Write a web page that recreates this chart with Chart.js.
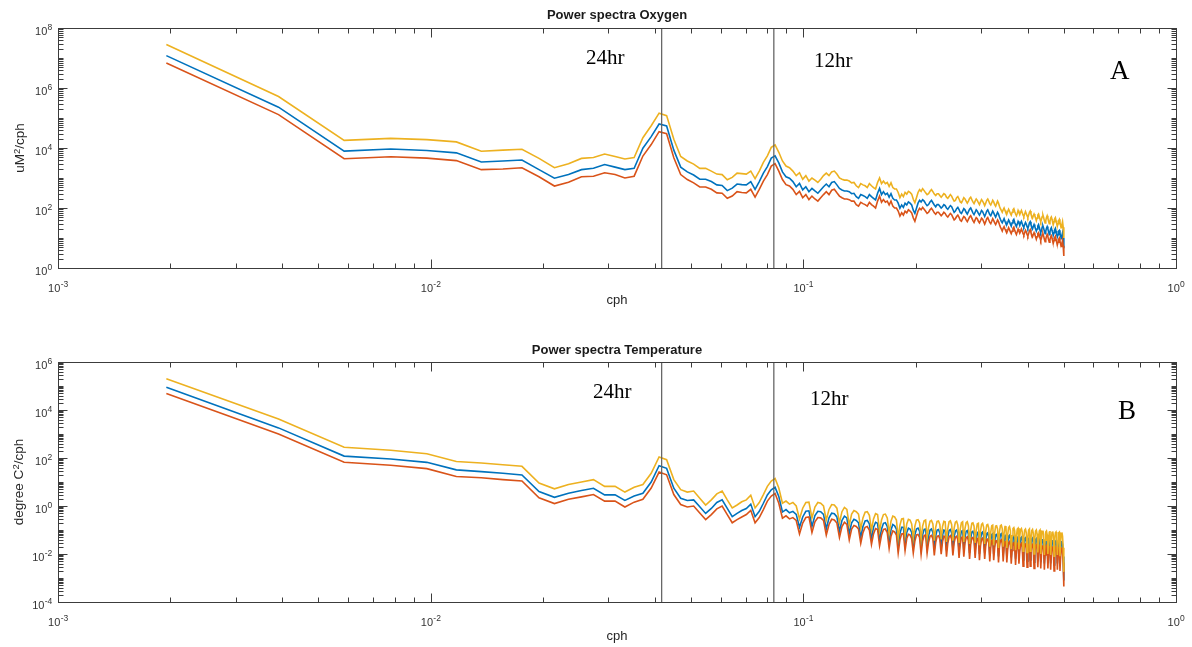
<!DOCTYPE html>
<html><head><meta charset="utf-8">
<script src="https://cdn.jsdelivr.net/npm/chart.js@4.4.1/dist/chart.umd.min.js"></script>
<style>
html,body{margin:0;padding:0;background:#fff;width:1192px;height:647px;overflow:hidden;}
#wrap{position:relative;width:1192px;height:647px;}
canvas{position:absolute;left:0;}
.t{position:absolute;white-space:nowrap;font-family:"Liberation Sans",Arial,sans-serif;color:#1a1a1a;line-height:1;}
.title{font-weight:bold;font-size:13px;transform:translate(-50%,-50%);}
.xl{font-size:13px;transform:translate(-50%,-50%);color:#262626;}
.yl{font-size:13.5px;transform:translate(-50%,-50%) rotate(-90deg);color:#262626;}
.ann{position:absolute;white-space:nowrap;font-family:"Liberation Serif","Times New Roman",serif;color:#000;line-height:1;}
sup{font-size:70%;vertical-align:0.45em;line-height:0;}
#err{position:absolute;left:300px;top:300px;color:red;font:14px sans-serif;}
</style></head>
<body><div id="wrap">
<canvas id="c1" width="1192" height="300" style="top:0px"></canvas>
<canvas id="c2" width="1192" height="300" style="top:334px"></canvas>
<div class="t title" style="left:617px;top:14px">Power spectra Oxygen</div>
<div class="t title" style="left:617px;top:349px">Power spectra Temperature</div>
<div class="t xl" style="left:617px;top:299px">cph</div>
<div class="t xl" style="left:617px;top:635px">cph</div>
<div class="t yl" style="left:20px;top:148px">uM<sup>2</sup>/cph</div>
<div class="t yl" style="left:19px;top:482px">degree C<sup>2</sup>/cph</div>
<div class="ann" style="left:586px;top:47px;font-size:21px">24hr</div>
<div class="ann" style="left:814px;top:50px;font-size:21px">12hr</div>
<div class="ann" style="left:1110px;top:57px;font-size:27px">A</div>
<div class="ann" style="left:593px;top:381px;font-size:21px">24hr</div>
<div class="ann" style="left:810px;top:388px;font-size:21px">12hr</div>
<div class="ann" style="left:1118px;top:397px;font-size:27px">B</div>
<div id="err"></div>
</div>
<script>
// ---- data (frequency bins are k/512 cph, k = 1..256) ----
const BIN_COUNT = 256;
const BIN_WIDTH = 1 / 512;
const PERIOD_MARKERS_HR = [24, 12];

const X_LABEL_TICKS = [1e-3, 1e-2, 1e-1, 1];
const OXY_Y_TICKS = [1, 1e2, 1e4, 1e6, 1e8];
const TEMP_Y_TICKS = [1e-4, 1e-2, 1, 1e2, 1e4, 1e6];

const OXY_MID = [
1.2e7,2.3e5,7.9e3,9.3e3,8.3e3,6.9e3,3.4e3,3.7e3,4.0e3,1.9e3,
9.8e2,1.3e3,1.9e3,2.1e3,2.8e3,2.3e3,1.9e3,2.1e3,9.8e3,2.4e4,
6.3e4,5.4e4,8.5e3,2.3e3,1.6e3,1.26e3,9.1e2,9.1e2,7.6e2,5.9e2,
5.6e2,3.8e2,4.6e2,6.3e2,6.0e2,5.9e2,7.6e2,4.2e2,7.6e2,1.45e3,
2.4e3,4.6e3,5.5e3,3.2e3,1.6e3,1.1e3,9.8e2,7.6e2,5.1e2,6.6e2,
4.0e2,5.1e2,3.5e2,4.5e2,3.7e2,3.1e2,4.0e2,5.1e2,6.3e2,5.1e2,
7.1e2,7.6e2,5.9e2,4.5e2,4.0e2,3.7e2,3.7e2,3.5e2,3.0e2,3.1e2,
2.4e2,2.1e2,2.8e2,2.6e2,2.4e2,2.1e2,2.8e2,2.4e2,2.1e2,1.85e2,
3.1e2,4.5e2,2.8e2,3.5e2,2.8e2,3.1e2,2.3e2,3.0e2,2.1e2,1.85e2,
1.85e2,1.45e2,9.8e1,1.26e2,1.05e2,1.45e2,1.26e2,1.6e2,1.45e2,1.26e2,
8.5e1,6.6e1,9.8e1,1.45e2,1.8e2,1.6e2,1.9e2,1.7e2,1.4e2,1.2e2,
1.3e2,1.6e2,1.8e2,1.5e2,1.26e2,1.1e2,1.3e2,1.3e2,1.15e2,1.0e2,
1.1e2,1.3e2,1.2e2,1.0e2,9.1e1,1.05e2,1.2e2,1.1e2,8.9e1,7.2e1,
7.9e1,9.5e1,1.05e2,8.9e1,7.1e1,6.6e1,7.9e1,9.5e1,8.7e1,7.2e1,
6.3e1,7.6e1,9.1e1,1.0e2,8.3e1,6.9e1,6.0e1,7.2e1,8.7e1,7.9e1,
6.6e1,5.8e1,6.9e1,8.3e1,7.6e1,6.3e1,5.2e1,6.3e1,7.9e1,8.7e1,
7.2e1,6.0e1,5.5e1,6.6e1,7.9e1,6.9e1,5.8e1,5.0e1,6.0e1,7.2e1,
6.3e1,5.0e1,4.2e1,3.6e1,3.2e1,3.8e1,4.4e1,3.6e1,3.0e1,2.8e1,
3.3e1,4.0e1,3.5e1,2.9e1,2.5e1,3.2e1,3.8e1,4.2e1,3.3e1,2.8e1,
2.4e1,2.9e1,3.6e1,3.2e1,2.6e1,3.2e1,3.6e1,3.0e1,2.5e1,2.3e1,
2.8e1,3.3e1,2.9e1,2.4e1,2.1e1,2.5e1,3.2e1,3.5e1,2.8e1,2.3e1,
2.0e1,2.4e1,2.8e1,2.4e1,2.0e1,1.7e1,2.0e1,2.5e1,2.8e1,2.3e1,
1.8e1,1.5e1,1.8e1,2.3e1,2.5e1,2.1e1,1.7e1,1.4e1,1.7e1,2.1e1,
2.4e1,2.0e1,1.6e1,1.3e1,1.6e1,2.0e1,2.2e1,1.8e1,1.45e1,1.26e1,
1.5e1,1.9e1,2.1e1,1.7e1,1.3e1,1.1e1,1.3e1,1.7e1,1.8e1,1.45e1,
1.15e1,9.5,1.2e1,1.5e1,1.0e1,4.5];

const OXY_HI = [
2.8e7,5.2e5,1.8e4,2.1e4,1.9e4,1.6e4,7.8e3,8.5e3,9.1e3,4.5e3,
2.2e3,3.0e3,4.5e3,4.8e3,6.3e3,5.2e3,4.3e3,4.8e3,2.2e4,5.5e4,
1.45e5,1.2e5,1.95e4,5.2e3,3.7e3,2.9e3,2.1e3,2.1e3,1.7e3,1.35e3,
1.3e3,8.7e2,1.05e3,1.45e3,1.4e3,1.35e3,1.7e3,9.5e2,1.7e3,3.3e3,
5.5e3,1.05e4,1.26e4,7.2e3,3.7e3,2.5e3,2.2e3,1.7e3,1.2e3,1.5e3,
9.1e2,1.2e3,7.9e2,1.0e3,8.5e2,7.1e2,9.1e2,1.2e3,1.45e3,1.2e3,
1.6e3,1.7e3,1.35e3,1.0e3,9.1e2,8.5e2,8.5e2,7.9e2,6.9e2,7.1e2,
5.5e2,4.8e2,6.5e2,5.9e2,5.5e2,4.8e2,6.5e2,5.5e2,4.8e2,4.3e2,
7.1e2,1.0e3,6.5e2,7.9e2,6.5e2,7.1e2,5.2e2,6.9e2,4.8e2,4.3e2,
4.3e2,3.3e2,2.2e2,2.9e2,2.4e2,3.3e2,2.9e2,3.6e2,3.3e2,2.9e2,
1.95e2,1.5e2,2.2e2,3.3e2,4.1e2,3.6e2,4.4e2,3.8e2,3.2e2,2.8e2,
3.0e2,3.6e2,4.1e2,3.5e2,2.9e2,2.6e2,3.0e2,3.0e2,2.6e2,2.3e2,
2.6e2,3.0e2,2.8e2,2.3e2,2.1e2,2.4e2,2.8e2,2.5e2,2.0e2,1.7e2,
1.8e2,2.2e2,2.4e2,2.0e2,1.6e2,1.5e2,1.8e2,2.2e2,2.0e2,1.7e2,
1.45e2,1.7e2,2.1e2,2.3e2,1.9e2,1.6e2,1.4e2,1.7e2,2.0e2,1.8e2,
1.5e2,1.3e2,1.6e2,1.9e2,1.7e2,1.45e2,1.2e2,1.45e2,1.8e2,2.0e2,
1.7e2,1.4e2,1.26e2,1.5e2,1.8e2,1.6e2,1.3e2,1.15e2,1.4e2,1.7e2,
1.45e2,1.15e2,9.5e1,8.3e1,7.2e1,8.7e1,1.0e2,8.3e1,6.9e1,6.3e1,
7.6e1,9.1e1,7.9e1,6.6e1,5.8e1,7.2e1,8.7e1,9.5e1,7.6e1,6.3e1,
5.5e1,6.6e1,8.3e1,7.2e1,6.0e1,7.2e1,8.3e1,6.9e1,5.8e1,5.2e1,
6.3e1,7.6e1,6.6e1,5.5e1,4.8e1,5.8e1,7.2e1,7.9e1,6.3e1,5.2e1,
4.6e1,5.5e1,6.3e1,5.5e1,4.6e1,3.8e1,4.6e1,5.8e1,6.3e1,5.2e1,
4.2e1,3.5e1,4.2e1,5.2e1,5.8e1,4.8e1,3.8e1,3.2e1,3.8e1,4.8e1,
5.5e1,4.6e1,3.6e1,3.0e1,3.6e1,4.6e1,5.0e1,4.2e1,3.3e1,2.9e1,
3.5e1,4.4e1,4.8e1,3.8e1,3.0e1,2.5e1,3.0e1,3.8e1,4.2e1,3.3e1,
2.6e1,2.2e1,2.8e1,3.5e1,2.3e1,1.0e1];

const OXY_LO = [
6.8e6,1.3e5,4.4e3,5.1e3,4.6e3,3.8e3,1.9e3,2.0e3,2.2e3,1.1e3,
5.4e2,7.2e2,1.1e3,1.15e3,1.5e3,1.3e3,1.0e3,1.15e3,5.4e3,1.3e4,
3.5e4,3.0e4,4.7e3,1.3e3,8.9e2,6.9e2,5.0e2,5.0e2,4.2e2,3.2e2,
3.1e2,2.1e2,2.5e2,3.5e2,3.3e2,3.2e2,4.2e2,2.3e2,4.2e2,7.9e2,
1.3e3,2.5e3,3.0e3,1.7e3,8.9e2,6.0e2,5.4e2,4.2e2,2.8e2,3.6e2,
2.2e2,2.8e2,1.9e2,2.5e2,2.0e2,1.7e2,2.2e2,2.8e2,3.5e2,2.8e2,
3.9e2,4.2e2,3.2e2,2.5e2,2.2e2,2.0e2,2.0e2,1.9e2,1.7e2,1.7e2,
1.3e2,1.15e2,1.55e2,1.4e2,1.3e2,1.15e2,1.55e2,1.3e2,1.15e2,1.0e2,
1.7e2,2.5e2,1.55e2,1.9e2,1.55e2,1.7e2,1.26e2,1.7e2,1.15e2,1.0e2,
1.0e2,7.9e1,5.4e1,6.9e1,5.8e1,7.9e1,6.9e1,8.7e1,7.9e1,6.9e1,
4.7e1,3.6e1,5.4e1,7.9e1,9.8e1,8.7e1,1.05e2,9.1e1,7.8e1,6.6e1,
7.2e1,8.7e1,9.8e1,8.3e1,6.9e1,6.2e1,7.2e1,7.2e1,6.3e1,5.5e1,
6.2e1,7.2e1,6.6e1,5.5e1,5.0e1,5.8e1,6.6e1,6.0e1,4.9e1,4.0e1,
4.4e1,5.2e1,5.8e1,4.9e1,3.9e1,3.6e1,4.4e1,5.2e1,4.8e1,4.0e1,
3.5e1,4.2e1,5.0e1,5.5e1,4.6e1,3.8e1,3.3e1,4.0e1,4.8e1,4.4e1,
3.6e1,3.2e1,3.8e1,4.6e1,4.2e1,3.5e1,2.9e1,3.5e1,4.4e1,4.8e1,
4.0e1,3.3e1,3.0e1,3.6e1,4.4e1,3.8e1,3.2e1,2.8e1,3.3e1,4.0e1,
3.5e1,2.8e1,2.3e1,2.0e1,1.7e1,2.1e1,2.4e1,2.0e1,1.7e1,1.5e1,
1.8e1,2.2e1,1.9e1,1.6e1,1.4e1,1.7e1,2.1e1,2.3e1,1.8e1,1.5e1,
1.3e1,1.6e1,2.0e1,1.7e1,1.45e1,1.7e1,2.0e1,1.7e1,1.4e1,1.26e1,
1.5e1,1.8e1,1.6e1,1.3e1,1.15e1,1.4e1,1.7e1,1.9e1,1.5e1,1.26e1,
1.1e1,1.3e1,1.5e1,1.3e1,1.1e1,9.1,1.1e1,1.4e1,1.5e1,1.26e1,
1.0e1,8.3,1.0e1,1.26e1,1.4e1,1.15e1,9.1,7.6,9.1,1.15e1,
1.3e1,1.1e1,8.7,7.2,8.7,1.1e1,1.2e1,1.0e1,7.9,6.9,
8.3,1.05e1,1.15e1,9.1,7.2,6.0,7.2,9.1,1.0e1,7.9,
6.3,5.2,6.6,8.3,5.5,2.5];

const TEMP_MID = [
8.9e4,1.8e3,1.2e2,9.1e1,6.6e1,3.2e1,2.7e1,2.3e1,1.95e1,4.0,
2.3,3.4,4.4,5.5,2.9,2.9,1.7,2.6,3.4,1.0e1,
4.8e1,3.7e1,5.5,2.1,1.7,1.8,0.93,0.49,0.79,1.4,
1.8,0.79,0.36,0.49,0.65,0.79,1.2,0.36,0.6,1.3,
2.9,4.7,6.0,2.5,0.56,0.71,0.52,0.6,0.45,0.13,
0.35,0.6,0.63,0.14,0.4,0.6,0.58,0.45,0.11,0.32,
0.5,0.48,0.35,0.089,0.25,0.38,0.32,0.071,0.2,0.28,
0.25,0.2,0.05,0.14,0.24,0.25,0.18,0.045,0.13,0.21,
0.19,0.04,0.11,0.19,0.2,0.14,0.032,0.1,0.17,0.15,
0.11,0.02,0.071,0.13,0.13,0.025,0.079,0.12,0.11,0.079,
0.02,0.063,0.11,0.12,0.089,0.018,0.063,0.105,0.11,0.02,
0.056,0.1,0.11,0.079,0.016,0.056,0.1,0.105,0.076,0.018,
0.06,0.1,0.095,0.014,0.05,0.095,0.105,0.076,0.016,0.052,
0.091,0.1,0.071,0.013,0.048,0.089,0.095,0.014,0.05,0.087,
0.095,0.066,0.011,0.045,0.083,0.089,0.063,0.013,0.045,0.079,
0.083,0.01,0.04,0.076,0.083,0.056,0.011,0.038,0.071,0.076,
0.052,0.0089,0.035,0.066,0.071,0.01,0.033,0.063,0.066,0.048,
0.0079,0.035,0.066,0.071,0.05,0.0089,0.032,0.06,0.063,0.0079,
0.028,0.055,0.06,0.042,0.0071,0.025,0.05,0.055,0.04,0.0063,
0.024,0.048,0.052,0.0071,0.024,0.046,0.05,0.035,0.0056,0.022,
0.045,0.048,0.033,0.005,0.021,0.044,0.048,0.0056,0.02,0.042,
0.046,0.032,0.0045,0.019,0.04,0.044,0.03,0.005,0.019,0.04,
0.044,0.0045,0.018,0.038,0.042,0.029,0.004,0.017,0.036,0.04,
0.028,0.0045,0.017,0.035,0.04,0.004,0.016,0.035,0.038,0.026,
0.0035,0.015,0.033,0.036,0.025,0.004,0.015,0.033,0.035,0.0035,
0.014,0.032,0.035,0.024,0.0079,0.00079];

const TEMP_HI = [
2.0e5,4.2e3,2.8e2,2.1e2,1.5e2,7.2e1,6.2e1,5.2e1,4.5e1,9.1,
5.2,7.8,1.0e1,1.26e1,6.6,6.6,3.8,6.0,7.8,2.3e1,
1.1e2,8.5e1,1.26e1,4.8,3.8,4.2,2.1,1.1,1.8,3.2,
4.2,1.8,0.83,1.1,1.5,1.8,2.8,0.83,1.4,3.0,
6.6,1.1e1,1.4e1,5.6,1.3,1.6,1.2,1.4,1.0,0.29,
0.81,1.4,1.45,0.32,0.91,1.4,1.3,1.0,0.26,0.72,
1.15,1.1,0.81,0.2,0.58,0.87,0.72,0.16,0.46,0.65,
0.58,0.46,0.115,0.32,0.55,0.58,0.41,0.1,0.29,0.48,
0.44,0.091,0.26,0.44,0.46,0.32,0.072,0.23,0.38,0.35,
0.26,0.046,0.16,0.29,0.3,0.058,0.18,0.28,0.26,0.18,
0.046,0.145,0.26,0.27,0.2,0.041,0.145,0.24,0.26,0.046,
0.13,0.23,0.25,0.18,0.036,0.13,0.23,0.24,0.17,0.041,
0.14,0.23,0.22,0.032,0.115,0.22,0.24,0.17,0.036,0.12,
0.21,0.23,0.16,0.029,0.11,0.2,0.22,0.032,0.115,0.2,
0.22,0.15,0.026,0.1,0.19,0.2,0.145,0.029,0.1,0.18,
0.19,0.023,0.091,0.17,0.19,0.13,0.026,0.087,0.16,0.17,
0.12,0.02,0.081,0.15,0.16,0.023,0.076,0.145,0.15,0.11,
0.018,0.081,0.15,0.16,0.115,0.02,0.072,0.14,0.145,0.018,
0.065,0.126,0.14,0.095,0.016,0.058,0.115,0.126,0.091,0.0145,
0.055,0.11,0.12,0.016,0.055,0.105,0.115,0.081,0.013,0.051,
0.1,0.11,0.076,0.0115,0.048,0.1,0.11,0.013,0.046,0.095,
0.105,0.072,0.01,0.044,0.091,0.1,0.069,0.0115,0.044,0.091,
0.1,0.01,0.041,0.087,0.095,0.066,0.0091,0.038,0.083,0.091,
0.063,0.01,0.038,0.081,0.091,0.0091,0.036,0.079,0.087,0.06,
0.0081,0.035,0.076,0.083,0.058,0.0091,0.035,0.076,0.081,0.0081,
0.032,0.072,0.079,0.055,0.018,0.0018];

const TEMP_LO = [
4.9e4,1.0e3,6.6e1,5.0e1,3.6e1,1.7e1,1.5e1,1.26e1,1.1e1,2.2,
1.26,1.9,2.4,3.0,1.6,1.6,0.91,1.45,1.9,5.6,
2.6e1,2.0e1,3.0,1.15,0.91,1.0,0.51,0.27,0.44,0.76,
1.0,0.44,0.2,0.27,0.35,0.44,0.66,0.2,0.33,0.71,
1.6,2.6,3.3,1.3,0.31,0.39,0.29,0.33,0.25,0.069,
0.195,0.33,0.35,0.078,0.22,0.33,0.32,0.25,0.062,0.17,
0.28,0.26,0.195,0.049,0.14,0.21,0.17,0.039,0.11,0.155,
0.14,0.11,0.028,0.078,0.13,0.14,0.098,0.025,0.069,0.115,
0.105,0.022,0.062,0.105,0.11,0.078,0.017,0.055,0.091,0.083,
0.062,0.011,0.039,0.069,0.072,0.014,0.044,0.066,0.062,0.044,
0.011,0.035,0.062,0.065,0.049,0.0098,0.035,0.058,0.062,0.011,
0.031,0.055,0.06,0.044,0.0087,0.031,0.055,0.058,0.042,0.0098,
0.033,0.055,0.052,0.0078,0.028,0.052,0.058,0.042,0.0087,0.029,
0.05,0.055,0.039,0.0069,0.026,0.049,0.052,0.0078,0.028,0.048,
0.052,0.036,0.0062,0.025,0.046,0.049,0.035,0.0069,0.025,0.044,
0.046,0.0055,0.022,0.042,0.046,0.031,0.0062,0.021,0.039,0.042,
0.029,0.0049,0.0195,0.036,0.039,0.0055,0.018,0.035,0.036,0.026,
0.0044,0.0195,0.036,0.039,0.028,0.0049,0.017,0.033,0.035,0.0044,
0.0155,0.03,0.033,0.023,0.0039,0.014,0.028,0.03,0.022,0.0035,
0.013,0.026,0.029,0.0039,0.013,0.025,0.028,0.0195,0.0031,0.012,
0.025,0.026,0.018,0.0028,0.0115,0.024,0.026,0.0031,0.011,0.023,
0.025,0.017,0.0025,0.0105,0.022,0.024,0.017,0.0028,0.0105,0.022,
0.024,0.0025,0.0098,0.021,0.023,0.016,0.0022,0.0091,0.02,0.022,
0.015,0.0025,0.0091,0.0195,0.022,0.0022,0.0087,0.019,0.021,0.0145,
0.00195,0.0083,0.018,0.02,0.014,0.0022,0.0083,0.018,0.0195,0.00195,
0.0078,0.017,0.019,0.013,0.0044,0.00044];

// ---- styling ----
const COL_BLUE = '#0072BD', COL_ORANGE = '#D95319', COL_YELLOW = '#EDB120';
const AXIS_COL = '#3c3c3c';
const LABEL_FAMILY = '"Liberation Sans", Arial, sans-serif';

const FREQ = Array.from({length: BIN_COUNT}, (_, i) => (i + 1) * BIN_WIDTH);

const errs = [];
[['OXY_MID',OXY_MID],['OXY_HI',OXY_HI],['OXY_LO',OXY_LO],['TEMP_MID',TEMP_MID],['TEMP_HI',TEMP_HI],['TEMP_LO',TEMP_LO]]
  .forEach(([n,a]) => { if (a.length !== BIN_COUNT) errs.push(n + ':' + a.length); });
if (errs.length) document.getElementById('err').textContent = 'LEN ' + errs.join(' ');

function decadeTicks(minExp, maxExp) {
  const minor = [], major = [];
  for (let d = minExp; d <= maxExp; d++) {
    major.push(Math.pow(10, d));
    if (d < maxExp) for (let m = 2; m <= 9; m++) minor.push(m * Math.pow(10, d));
  }
  return {minor, major};
}

// draws "10" with a raised exponent; anchor: 'right' (y axis) or 'center' (x axis)
function drawPow(ctx, v, ax, baseY, anchor) {
  const e = String(Math.round(Math.log10(v)));
  ctx.font = '11px ' + LABEL_FAMILY;
  const w1 = ctx.measureText('10').width;
  ctx.font = '8.5px ' + LABEL_FAMILY;
  const w2 = ctx.measureText(e).width;
  const x0 = anchor === 'right' ? ax - (w1 + w2) : ax - (w1 + w2) / 2;
  ctx.textAlign = 'left';
  ctx.textBaseline = 'alphabetic';
  ctx.font = '11px ' + LABEL_FAMILY;
  ctx.fillText('10', x0, baseY);
  ctx.font = '8.5px ' + LABEL_FAMILY;
  ctx.fillText(e, x0 + w1 + 0.3, baseY - 5);
}

const boxPlugin = {
  id: 'matlabBox',
  afterDraw(chart, args, opts) {
    const {ctx, chartArea: a, scales: {x, y}} = chart;
    ctx.save();
    ctx.strokeStyle = AXIS_COL;
    ctx.lineWidth = 1;
    const L = Math.round(a.left) + 0.5, R = Math.round(a.right) + 0.5;
    const T = Math.round(a.top) + 0.5, B = Math.round(a.bottom) + 0.5;
    ctx.beginPath();
    const xt = decadeTicks(-3, 0);
    const drawX = (v, len) => {
      const p = Math.round(x.getPixelForValue(v)) + 0.5;
      ctx.moveTo(p, B); ctx.lineTo(p, B - len);
      ctx.moveTo(p, T); ctx.lineTo(p, T + len);
    };
    xt.minor.forEach(v => drawX(v, 5));
    xt.major.forEach(v => drawX(v, 9));
    const yt = decadeTicks(opts.yMinExp, opts.yMaxExp);
    const drawY = (v, len) => {
      const p = Math.round(y.getPixelForValue(v)) + 0.5;
      ctx.moveTo(L, p); ctx.lineTo(L + len, p);
      ctx.moveTo(R, p); ctx.lineTo(R - len, p);
    };
    yt.minor.forEach(v => drawY(v, 5));
    yt.major.forEach(v => drawY(v, opts.yLabels.includes(v) ? 9 : 5));
    ctx.stroke();
    ctx.strokeRect(L, T, R - L, B - T);
    // tick labels, positioned through the chart scales
    ctx.fillStyle = '#333';
    X_LABEL_TICKS.forEach(v => drawPow(ctx, v, x.getPixelForValue(v), a.bottom + 24, 'center'));
    opts.yLabels.forEach(v => drawPow(ctx, v, a.left - 6, y.getPixelForValue(v) + 7, 'right'));
    ctx.restore();
  }
};

function makeChart(id, mid, hi, lo, yMin, yMax, yLabels, yMinExp, yMaxExp) {
  const series = (arr) => FREQ.map((f, i) => ({x: f, y: arr[i]}));
  const vlines = PERIOD_MARKERS_HR.map(h => ({
    data: [{x: 1 / h, y: yMin}, {x: 1 / h, y: yMax}],
    borderColor: 'rgba(95,95,95,0.95)', borderWidth: 1.3
  }));
  return new Chart(document.getElementById(id), {
    type: 'line',
    data: {
      datasets: [
        ...vlines,
        {data: series(hi), borderColor: COL_YELLOW, borderWidth: 1.6},
        {data: series(lo), borderColor: COL_ORANGE, borderWidth: 1.6},
        {data: series(mid), borderColor: COL_BLUE, borderWidth: 1.6}
      ]
    },
    options: {
      responsive: false, animation: false, events: [],
      layout: {padding: {left: 0, right: 16, top: 28, bottom: 0}},
      elements: {point: {radius: 0}, line: {tension: 0, fill: false}},
      plugins: {legend: {display: false}, tooltip: {enabled: false}, title: {display: false}, matlabBox: {yLabels, yMinExp, yMaxExp}},
      scales: {
        x: {
          type: 'logarithmic', min: 1e-3, max: 1, position: 'bottom',
          afterBuildTicks: s => { s.ticks = X_LABEL_TICKS.map(v => ({value: v})); },
          afterFit: s => { s.height = 32; },
          grid: {display: false, drawTicks: false}, border: {display: false},
          ticks: {display: false, autoSkip: false}
        },
        y: {
          type: 'logarithmic', min: yMin, max: yMax, position: 'left',
          afterBuildTicks: s => { s.ticks = yLabels.map(v => ({value: v})); },
          afterFit: s => { s.width = 58; },
          grid: {display: false, drawTicks: false}, border: {display: false},
          ticks: {display: false, autoSkip: false}
        }
      }
    },
    plugins: [boxPlugin]
  });
}

makeChart('c1', OXY_MID, OXY_HI, OXY_LO, 1, 1e8, OXY_Y_TICKS, 0, 8);
makeChart('c2', TEMP_MID, TEMP_HI, TEMP_LO, 1e-4, 1e6, TEMP_Y_TICKS, -4, 6);
</script>
</body></html>
